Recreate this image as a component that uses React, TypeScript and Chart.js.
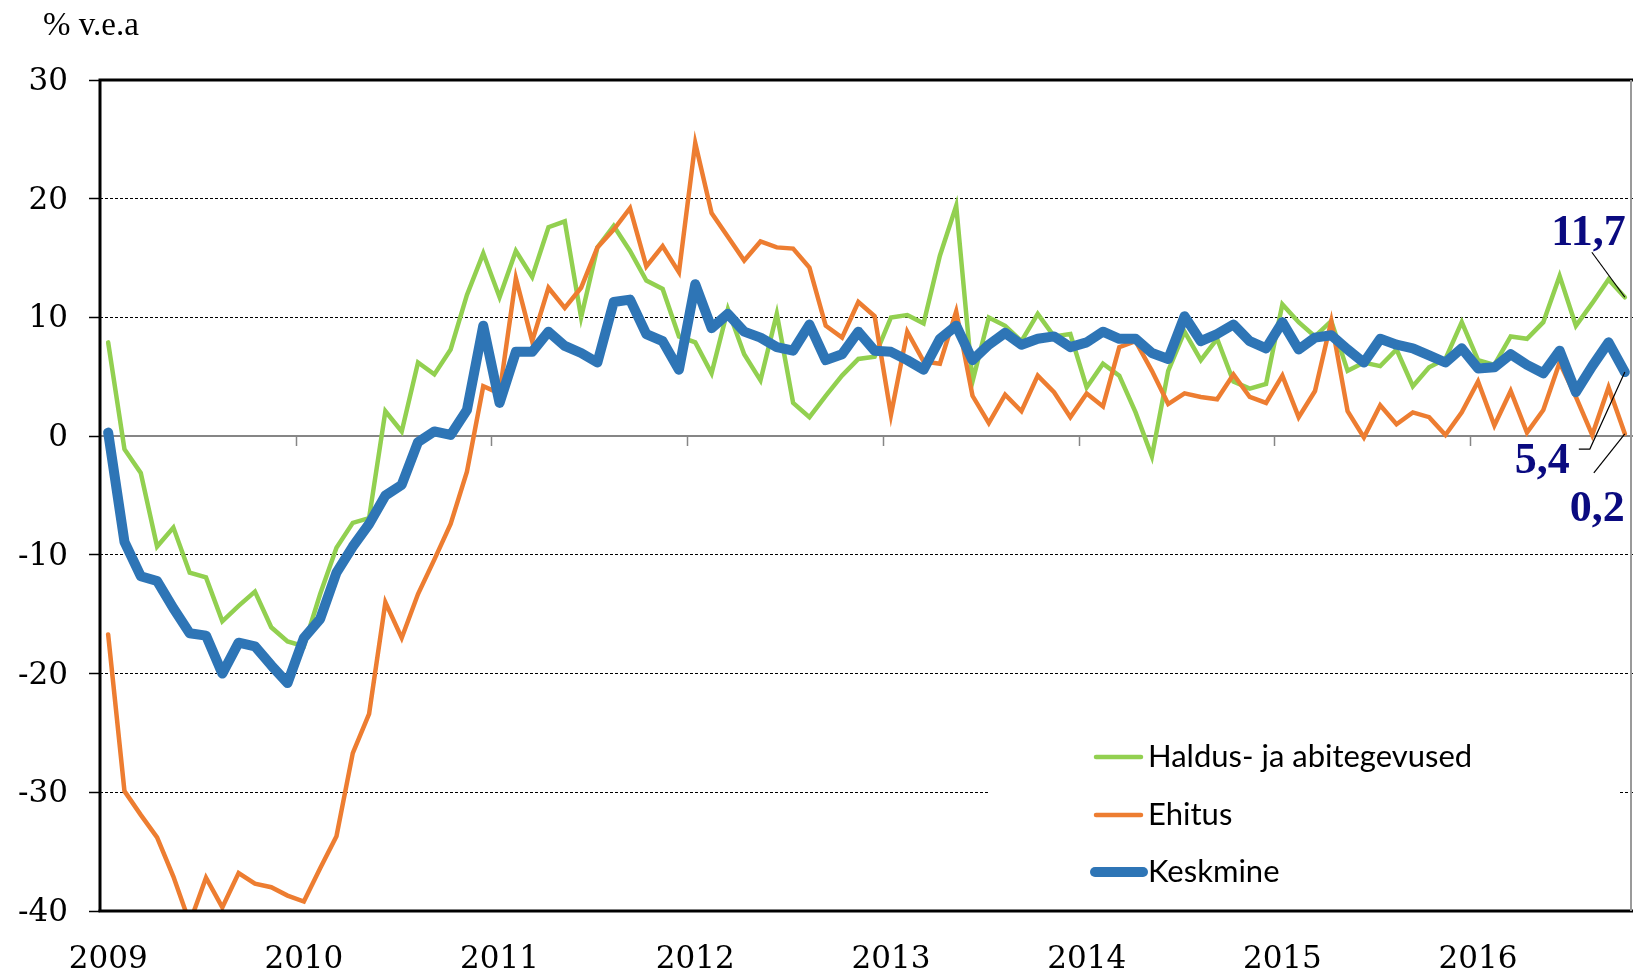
import React, { useEffect, useRef } from 'react';
import { Chart, registerables } from 'chart.js';

Chart.register(...registerables);

// ---- data ----
const years = ['2009', '2010', '2011', '2012', '2013', '2014', '2015', '2016'];
const monthCount = 94; // Jan 2009 .. Oct 2016
const categories: string[] = [];
for (let i = 0; i < monthCount; i++) {
  const yr = years[Math.floor(i / 12)];
  const m = (i % 12) + 1;
  categories.push(`${yr}-${m < 10 ? '0' + m : m}`);
}

const haldus = [
  7.9, -1.1, -3.1, -9.3, -7.7, -11.5, -11.9, -15.6, -14.3, -13.1, -16.1, -17.3,
  -17.7, -13.3, -9.4, -7.3, -6.9, 2.1, 0.4, 6.2, 5.2, 7.3, 11.9, 15.4,
  11.7, 15.6, 13.4, 17.6, 18.1, 10.0, 15.9, 17.7, 15.6, 13.1, 12.4, 8.4,
  7.9, 5.3, 10.7, 6.9, 4.7, 10.3, 2.8, 1.6, 3.4, 5.1, 6.5, 6.7,
  10.0, 10.2, 9.5, 15.2, 19.4, 4.6, 10.0, 9.3, 8.0, 10.3, 8.4, 8.6,
  4.1, 6.1, 5.1, 2.0, -1.7, 5.5, 8.8, 6.4, 8.2, 4.6, 4.0, 4.4,
  11.1, 9.6, 8.4, 9.7, 5.5, 6.2, 5.9, 7.3, 4.2, 5.8, 6.5, 9.6,
  6.4, 6.0, 8.4, 8.2, 9.6, 13.5, 9.3, 11.2, 13.2, 11.7,
];

const ehitus = [
  -16.7, -29.9, -31.9, -33.8, -37.1, -41.0, -37.2, -39.7, -36.8, -37.7, -38.0, -38.7,
  -39.2, -36.4, -33.7, -26.7, -23.4, -14.0, -17.0, -13.3, -10.4, -7.4, -3.0, 4.2,
  3.6, 13.3, 8.0, 12.5, 10.8, 12.5, 15.9, 17.4, 19.2, 14.3, 16.0, 13.8,
  24.7, 18.8, 16.8, 14.8, 16.4, 15.9, 15.8, 14.2, 9.3, 8.3, 11.3, 10.1,
  1.8, 8.8, 6.3, 6.1, 10.5, 3.4, 1.1, 3.5, 2.1, 5.1, 3.7, 1.6,
  3.6, 2.5, 7.5, 8.0, 5.5, 2.7, 3.6, 3.3, 3.1, 5.2, 3.3, 2.8,
  5.1, 1.6, 3.8, 9.7, 2.1, -0.1, 2.6, 1.0, 2.0, 1.6, 0.1, 2.0,
  4.6, 0.9, 3.8, 0.3, 2.2, 6.2, 3.3, 0.1, 4.1, 0.2,
];

const keskmine = [
  0.3, -8.9, -11.8, -12.2, -14.5, -16.6, -16.8, -20.0, -17.4, -17.7, -19.3, -20.8,
  -17.0, -15.4, -11.5, -9.3, -7.4, -5.0, -4.1, -0.5, 0.4, 0.1, 2.2, 9.3,
  2.8, 7.1, 7.1, 8.8, 7.6, 7.0, 6.2, 11.3, 11.5, 8.6, 8.0, 5.6,
  12.8, 9.1, 10.3, 8.8, 8.3, 7.5, 7.2, 9.4, 6.4, 6.9, 8.8, 7.2,
  7.1, 6.4, 5.6, 8.2, 9.3, 6.4, 7.7, 8.7, 7.7, 8.2, 8.4, 7.5,
  7.9, 8.8, 8.2, 8.2, 7.0, 6.5, 10.1, 8.0, 8.6, 9.4, 8.0, 7.4,
  9.6, 7.3, 8.3, 8.5, 7.3, 6.2, 8.2, 7.7, 7.4, 6.8, 6.2, 7.4,
  5.7, 5.8, 6.9, 6.0, 5.3, 7.2, 3.7, 5.9, 7.9, 5.4,
];

const seriesNames = ['Haldus- ja abitegevused', 'Ehitus', 'Keskmine'];
const seriesColors = ['#92D050', '#ED7D31', '#2E75B6'];
const seriesWidths = [4.5, 4.5, 10];
const endLabels = ['11,7', '0,2', '5,4']; // for haldus, ehitus, keskmine
const yMin = -40;
const yMax = 30;
const yStep = 10;
const yTitle = '% v.e.a';

const serifFont = '"DejaVu Serif", serif';

const decor = {
  id: 'decor',
  beforeDatasetsDraw(chart: any) {
    const { ctx, chartArea: a, scales } = chart;
    const x = scales.x;
    const y = scales.y;
    const y0 = Math.round(y.getPixelForValue(0));
    ctx.save();
    ctx.strokeStyle = '#868686';
    ctx.lineWidth = 2;
    ctx.beginPath();
    ctx.moveTo(a.left, y0);
    ctx.lineTo(a.right, y0);
    ctx.stroke();
    ctx.lineWidth = 1.5;
    for (let i = 12; i < categories.length; i += 12) {
      const px = Math.round((x.getPixelForValue(i - 1) + x.getPixelForValue(i)) / 2) + 0.5;
      ctx.beginPath();
      ctx.moveTo(px, y0);
      ctx.lineTo(px, y0 + 10);
      ctx.stroke();
    }
    ctx.restore();
  },
  afterDatasetsDraw(chart: any) {
    const { ctx, chartArea: a } = chart;
    ctx.save();

    // frame
    ctx.strokeStyle = '#000';
    ctx.lineWidth = 3;
    ctx.beginPath();
    ctx.moveTo(a.left, a.bottom);
    ctx.lineTo(a.left, a.top);
    ctx.lineTo(a.right, a.top);
    ctx.stroke();
    ctx.beginPath();
    ctx.moveTo(a.left - 1.5, a.bottom);
    ctx.lineTo(a.right, a.bottom);
    ctx.stroke();
    ctx.strokeStyle = '#9a9a9a';
    ctx.lineWidth = 2;
    ctx.beginPath();
    ctx.moveTo(a.right - 2, a.top);
    ctx.lineTo(a.right - 2, a.bottom);
    ctx.stroke();

    // legend
    ctx.fillStyle = '#fff';
    ctx.fillRect(990, 695, 630, 205);
    const rows = [757, 815, 872];
    chart.data.datasets.forEach((ds: any, i: number) => {
      const cy = rows[i];
      ctx.strokeStyle = ds.borderColor;
      ctx.lineWidth = ds.borderWidth;
      ctx.lineCap = 'round';
      ctx.beginPath();
      ctx.moveTo(i === 2 ? 1095 : 1096, cy);
      ctx.lineTo(i === 2 ? 1143 : 1141, cy);
      ctx.stroke();
      ctx.fillStyle = '#000';
      ctx.font = '31px Lato';
      ctx.textAlign = 'left';
      ctx.textBaseline = 'middle';
      ctx.fillText(ds.label, 1148, cy);
    });
    ctx.lineCap = 'butt';

    // end annotations
    const end = (i: number) => {
      const m = chart.getDatasetMeta(i);
      const p = m.data[m.data.length - 1];
      return { x: p.x, y: p.y };
    };
    ctx.font = `bold 44px "Liberation Serif"`;
    ctx.fillStyle = '#0a0a80';
    ctx.textAlign = 'right';
    ctx.textBaseline = 'alphabetic';
    ctx.strokeStyle = '#000';
    ctx.lineWidth = 1.2;

    const g = end(0);
    ctx.fillText(endLabels[0], g.x + 1, g.y - 52);
    ctx.beginPath();
    ctx.moveTo(g.x - 33, g.y - 45);
    ctx.lineTo(g.x, g.y);
    ctx.stroke();

    const b = end(2);
    ctx.fillText(endLabels[2], b.x - 55, b.y + 101);
    ctx.beginPath();
    ctx.moveTo(b.x - 46, b.y + 77);
    ctx.lineTo(b.x - 35, b.y + 77);
    ctx.lineTo(b.x, b.y);
    ctx.stroke();

    const o = end(1);
    ctx.fillText(endLabels[1], o.x, o.y + 87);
    ctx.beginPath();
    ctx.moveTo(o.x - 31, o.y + 39);
    ctx.lineTo(o.x, o.y);
    ctx.stroke();

    // y title
    ctx.font = '33px "Liberation Serif"';
    ctx.fillStyle = '#000';
    ctx.textAlign = 'left';
    ctx.fillText(yTitle, 43, 35);

    ctx.restore();
  },
};

export default function App() {
  const ref = useRef<HTMLCanvasElement>(null);
  useEffect(() => {
    const datasets = [haldus, ehitus, keskmine].map((d, i) => ({
      label: seriesNames[i],
      data: d,
      borderColor: seriesColors[i],
      backgroundColor: seriesColors[i],
      borderWidth: seriesWidths[i],
      pointRadius: 0,
      tension: 0,
      fill: false,
      borderJoinStyle: i === 2 ? 'round' : 'miter',
      borderCapStyle: 'round',
      order: 3 - i,
    }));
    const chart = new Chart(ref.current as HTMLCanvasElement, {
      type: 'line',
      data: { labels: categories, datasets: datasets as any },
      options: {
        animation: false,
        responsive: false,
        maintainAspectRatio: false,
        layout: { padding: { top: 80, right: 1, left: 0, bottom: 0 } },
        plugins: { legend: { display: false }, tooltip: { enabled: false } },
        scales: {
          x: {
            type: 'category',
            offset: true,
            grid: { display: false, drawTicks: true, tickLength: 23 },
            border: { display: false },
            ticks: {
              autoSkip: false,
              maxRotation: 0,
              minRotation: 0,
              padding: 7,
              color: '#000',
              font: { family: serifFont, size: 31 },
              callback: (_v: any, i: number) => (i % 12 === 0 ? years[i / 12] : ''),
            },
            afterFit: (s: any) => {
              s.height = 61;
              s.paddingLeft = 0;
              s.paddingRight = 0;
            },
          },
          y: {
            min: yMin,
            max: yMax,
            ticks: {
              stepSize: yStep,
              padding: 21,
              labelOffset: 2,
              color: '#000',
              font: { family: serifFont, size: 31 },
              callback: (v: any) => String(v),
            },
            grid: {
              color: (c: any) => (c.tick && c.tick.value === 0 ? 'rgba(0,0,0,0)' : '#000'),
              lineWidth: 1,
              tickLength: 11,
              tickColor: '#000',
              tickWidth: 1.5,
            },
            border: { display: false, dash: [3, 2] },
            afterFit: (s: any) => {
              s.width = 100;
            },
          },
        },
      },
      plugins: [decor],
    } as any);
    return () => chart.destroy();
  }, []);
  return (
    <div style={{ position: 'fixed', left: 0, top: 0, width: 1634, height: 972, background: '#fff' }}>
      <canvas ref={ref} width={1634} height={972} style={{ display: 'block', width: 1634, height: 972 }} />
    </div>
  );
}
